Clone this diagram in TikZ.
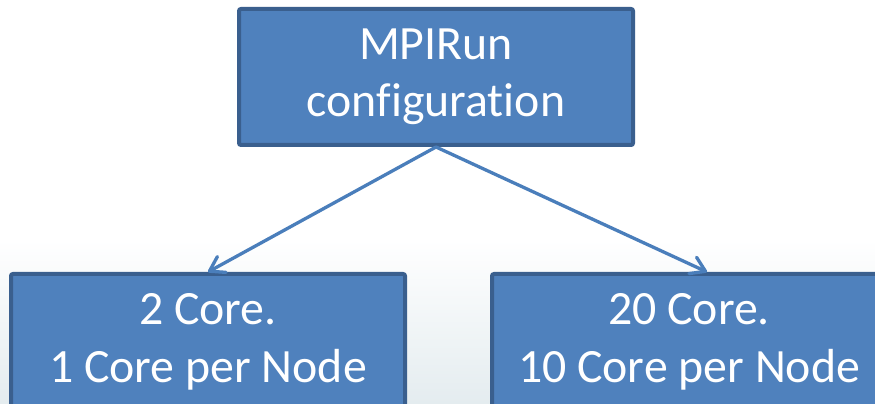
\documentclass[tikz,border=0pt]{standalone}
\usepackage{fontspec}
\setmainfont{Carlito}[Ligatures=NoCommon]
\usetikzlibrary{arrows.meta}
\definecolor{boxfill}{HTML}{4F81BD}
\definecolor{boxline}{HTML}{3A5F8E}
\definecolor{linkblue}{HTML}{4A7EBB}
\definecolor{haze}{HTML}{E4ECEF}
\begin{document}
\begin{tikzpicture}[x=1pt,y=1pt,
  blockbox/.style={draw=boxline, fill=boxfill, line width=4pt, rounded corners=2pt,
    minimum width=394pt, minimum height=136pt, inner sep=0pt, align=center,
    text=white, font=\fontsize{47.8}{57.5}\selectfont},
  link/.style={draw=linkblue, line width=3.3pt, line cap=round,
    -{Straight Barb[length=14pt,width=18pt,line width=3.3pt,round]}}]
  % page and the faint haze along the lower part
  \fill[white] (0,0) rectangle (875,404);
  \shade[top color=white, bottom color=haze] (0,0) rectangle (875,165);
  \useasboundingbox (0,0) rectangle (875,404);

  % boxes
  \node[blockbox] (cfg)    at (436,327) {MPIRun\\configuration};
  \node[blockbox] (two)    at (208,62)  {2 Core.\\1 Core per Node};
  \node[blockbox] (twenty) at (689,62)  {20 Core.\\10 Core per Node};

  % connectors
  \draw[link] (cfg.south) -- (two.north);
  \draw[link] (cfg.south) -- ([xshift=18pt]twenty.north);
\end{tikzpicture}
\end{document}
